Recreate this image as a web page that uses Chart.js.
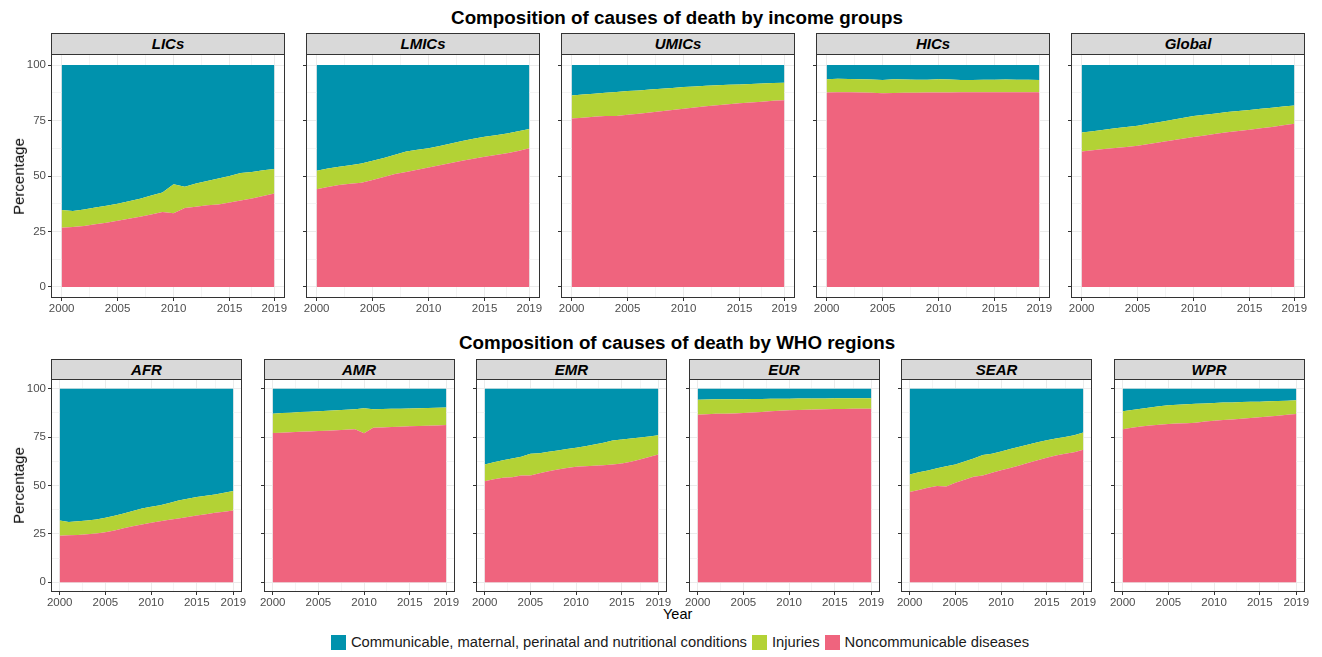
<!DOCTYPE html>
<html>
<head>
<meta charset="utf-8">
<script src="https://cdn.jsdelivr.net/npm/chart.js@4.4.1/dist/chart.umd.min.js"></script>
<style>
  html, body { margin: 0; padding: 0; background: #fff; }
  body { width: 1322px; height: 657px; position: relative; overflow: hidden;
         font-family: "Liberation Sans", Arial, Helvetica, sans-serif; color: #000; }
  .title { position: absolute; left: 0; width: 1354px; text-align: center;
           font-weight: bold; font-size: 18.8px; }
  .strip { position: absolute; box-sizing: border-box; background: #d9d9d9;
           border: 1px solid #333; text-align: center; font-weight: bold;
           font-style: italic; font-size: 15px; color: #000; }
  canvas { position: absolute; }
  .ytitle { position: absolute; font-size: 15px; transform: rotate(-90deg);
            transform-origin: center center; white-space: nowrap; }
  .xtitle { position: absolute; font-size: 14.5px; }
  .legend { position: absolute; left: 0; width: 1365px; top: 634px; display: flex;
            justify-content: center; align-items: center; font-size: 14.75px; color: #1a1a1a; }
  .legend .box { width: 15px; height: 15px; margin-right: 5px; }
  .legend .item { display: flex; align-items: center; margin-right: 5px; }
</style>
</head>
<body>
<div class="title" style="top:7px">Composition of causes of death by income groups</div>
<div class="title" style="top:332px">Composition of causes of death by WHO regions</div>
<div class="xtitle" style="left:663px; top:606px">Year</div>
<div class="legend">
  <div class="item"><div class="box" style="background:#0092ad"></div>Communicable, maternal, perinatal and nutritional conditions</div>
  <div class="item"><div class="box" style="background:#b3d235"></div>Injuries</div>
  <div class="item"><div class="box" style="background:#ef647e"></div>Noncommunicable diseases</div>
</div>
<script>
// years and axis breaks
const years = [2000, 2001, 2002, 2003, 2004, 2005, 2006, 2007, 2008, 2009,
               2010, 2011, 2012, 2013, 2014, 2015, 2016, 2017, 2018, 2019];
const xMajor = [2000, 2005, 2010, 2015, 2019];
const xMinor = [2002.5, 2007.5, 2012.5, 2017];
const yMajor = [0, 25, 50, 75, 100];
const yMinor = [12.5, 37.5, 62.5, 87.5];

// share of deaths (%)
const licsNcd  = [26.7, 27.0, 27.5, 28.2, 28.9, 29.8, 30.7, 31.6, 32.6, 33.8, 33.2, 35.6, 36.1, 36.8, 37.2, 38.0, 38.9, 39.9, 41.0, 42.1];
const licsInj  = [8.0, 7.2, 7.4, 7.6, 7.7, 7.7, 7.9, 8.2, 8.6, 8.8, 13.1, 9.5, 10.5, 10.9, 11.7, 12.0, 12.4, 11.9, 11.6, 11.1];
const licsCmnn = [65.3, 65.8, 65.1, 64.2, 63.4, 62.5, 61.4, 60.2, 58.8, 57.4, 53.7, 54.9, 53.4, 52.3, 51.1, 50.0, 48.7, 48.2, 47.4, 46.8];

const lmicsNcd  = [44.0, 45.0, 45.9, 46.5, 47.0, 48.2, 49.6, 50.9, 51.8, 52.8, 53.8, 54.8, 55.9, 56.9, 57.8, 58.7, 59.5, 60.2, 61.3, 62.5];
const lmicsInj  = [8.4, 8.4, 8.3, 8.4, 8.6, 8.7, 8.5, 8.7, 9.3, 9.0, 8.7, 8.7, 8.8, 8.9, 9.0, 9.0, 8.9, 9.0, 8.9, 8.7];
const lmicsCmnn = [47.6, 46.6, 45.8, 45.1, 44.4, 43.1, 41.9, 40.4, 38.9, 38.2, 37.5, 36.5, 35.3, 34.2, 33.2, 32.3, 31.6, 30.8, 29.8, 28.8];

const umicsNcd  = [75.9, 76.3, 76.7, 77.0, 77.1, 77.6, 78.1, 78.6, 79.2, 79.7, 80.3, 80.9, 81.5, 81.9, 82.4, 82.8, 83.1, 83.5, 83.9, 84.2];
const umicsInj  = [10.4, 10.4, 10.4, 10.5, 10.8, 10.7, 10.5, 10.4, 10.1, 10.0, 9.8, 9.5, 9.2, 9.0, 8.7, 8.5, 8.4, 8.2, 8.0, 7.8];
const umicsCmnn = [13.7, 13.3, 12.9, 12.5, 12.1, 11.7, 11.4, 11.0, 10.7, 10.3, 9.9, 9.6, 9.3, 9.1, 8.9, 8.7, 8.5, 8.3, 8.1, 8.0];

const hicsNcd  = [87.6, 87.7, 87.7, 87.6, 87.5, 87.3, 87.4, 87.5, 87.5, 87.6, 87.6, 87.6, 87.7, 87.7, 87.7, 87.7, 87.7, 87.8, 87.8, 87.8];
const hicsInj  = [6.0, 6.1, 6.0, 6.0, 6.0, 6.0, 6.2, 6.0, 5.9, 5.8, 6.0, 5.9, 5.6, 5.6, 5.7, 5.7, 5.8, 5.6, 5.6, 5.5];
const hicsCmnn = [6.4, 6.2, 6.3, 6.4, 6.5, 6.7, 6.4, 6.5, 6.6, 6.6, 6.4, 6.5, 6.7, 6.7, 6.6, 6.6, 6.5, 6.6, 6.6, 6.7];

const globalNcd  = [61.0, 61.6, 62.2, 62.6, 63.1, 63.6, 64.4, 65.2, 66.0, 66.8, 67.6, 68.3, 69.0, 69.7, 70.3, 70.9, 71.5, 72.1, 72.9, 73.6];
const globalInj  = [8.6, 8.6, 8.7, 8.9, 9.0, 9.1, 9.1, 9.1, 9.3, 9.4, 9.4, 9.3, 9.2, 9.1, 9.0, 8.9, 8.8, 8.7, 8.4, 8.2];
const globalCmnn = [30.4, 29.8, 29.1, 28.5, 27.9, 27.3, 26.5, 25.7, 24.7, 23.8, 23.0, 22.4, 21.8, 21.2, 20.7, 20.2, 19.7, 19.2, 18.7, 18.2];

const afrNcd  = [24.1, 24.3, 24.5, 24.8, 25.2, 25.9, 26.8, 27.9, 29.0, 29.9, 30.7, 31.5, 32.3, 32.9, 33.7, 34.5, 35.2, 35.9, 36.5, 37.1];
const afrInj  = [7.8, 6.9, 7.0, 7.1, 7.3, 7.4, 7.6, 7.6, 7.8, 8.2, 8.3, 8.3, 8.7, 9.3, 9.4, 9.5, 9.5, 9.4, 9.8, 10.0];
const afrCmnn = [68.1, 68.8, 68.5, 68.1, 67.5, 66.7, 65.6, 64.5, 63.2, 61.9, 61.0, 60.2, 59.0, 57.8, 56.9, 56.0, 55.3, 54.7, 53.7, 52.9];

const amrNcd  = [77.1, 77.3, 77.5, 77.7, 77.9, 78.1, 78.3, 78.5, 78.8, 79.0, 77.0, 79.8, 80.0, 80.2, 80.4, 80.6, 80.7, 80.9, 81.0, 81.2];
const amrInj  = [10.0, 10.1, 10.1, 10.2, 10.2, 10.3, 10.3, 10.4, 10.3, 10.4, 12.9, 9.6, 9.5, 9.4, 9.3, 9.2, 9.2, 9.1, 9.2, 9.1];
const amrCmnn = [12.9, 12.6, 12.4, 12.1, 11.9, 11.6, 11.4, 11.1, 10.9, 10.6, 10.1, 10.6, 10.5, 10.4, 10.3, 10.2, 10.1, 10.0, 9.8, 9.7];

const emrNcd  = [52.2, 53.2, 54.0, 54.3, 55.2, 55.2, 56.3, 57.4, 58.3, 59.1, 59.7, 59.9, 60.2, 60.5, 60.9, 61.4, 62.3, 63.4, 64.7, 66.0];
const emrInj  = [8.7, 8.8, 9.0, 9.7, 9.6, 11.2, 10.3, 10.0, 9.8, 9.7, 9.8, 10.4, 11.0, 11.6, 12.4, 12.4, 12.0, 11.4, 10.6, 9.9];
const emrCmnn = [39.1, 38.0, 37.0, 36.0, 35.2, 33.6, 33.4, 32.6, 31.9, 31.2, 30.5, 29.7, 28.8, 27.9, 26.7, 26.2, 25.7, 25.2, 24.7, 24.1];

const eurNcd  = [86.6, 86.8, 87.0, 87.1, 87.2, 87.4, 87.7, 88.0, 88.3, 88.6, 88.8, 89.0, 89.1, 89.2, 89.4, 89.5, 89.5, 89.6, 89.6, 89.7];
const eurInj  = [7.7, 7.6, 7.5, 7.4, 7.4, 7.2, 7.0, 6.7, 6.5, 6.2, 6.0, 5.9, 5.8, 5.7, 5.5, 5.5, 5.5, 5.4, 5.4, 5.3];
const eurCmnn = [5.7, 5.6, 5.5, 5.5, 5.4, 5.4, 5.3, 5.3, 5.2, 5.2, 5.2, 5.1, 5.1, 5.1, 5.1, 5.0, 5.0, 5.0, 5.0, 5.0];

const searNcd  = [46.7, 47.7, 48.8, 49.8, 49.5, 51.4, 53.0, 54.5, 55.2, 56.6, 57.9, 59.1, 60.3, 61.7, 63.1, 64.3, 65.5, 66.4, 67.2, 68.4];
const searInj  = [9.0, 9.1, 9.0, 9.1, 10.5, 9.5, 9.4, 9.5, 10.5, 9.8, 9.7, 9.7, 9.7, 9.5, 9.3, 9.1, 8.8, 8.7, 8.7, 9.0];
const searCmnn = [44.3, 43.2, 42.2, 41.1, 40.0, 39.1, 37.6, 36.0, 34.3, 33.6, 32.4, 31.2, 30.0, 28.8, 27.6, 26.6, 25.7, 24.9, 24.1, 22.6];

const wprNcd  = [79.0, 79.8, 80.5, 81.0, 81.4, 81.7, 82.0, 82.2, 82.4, 83.1, 83.4, 83.8, 84.1, 84.5, 84.8, 85.2, 85.6, 86.0, 86.5, 86.9];
const wprInj  = [9.3, 9.2, 9.2, 9.3, 9.5, 9.7, 9.7, 9.8, 9.8, 9.3, 9.2, 9.0, 8.8, 8.6, 8.4, 8.1, 7.9, 7.7, 7.3, 7.1];
const wprCmnn = [11.7, 11.0, 10.3, 9.7, 9.1, 8.6, 8.3, 8.0, 7.8, 7.6, 7.4, 7.2, 7.1, 6.9, 6.8, 6.7, 6.5, 6.3, 6.2, 6.0];

const colors = { cmnn: "#0092ad", inj: "#b3d235", ncd: "#ef647e" };

// layout of the two rows of panels
const rows = [
  { stripTop: 33, plotTop: 54, plotBottom: 298, lefts: [51, 306, 561, 816, 1071], width: 234 },
  { stripTop: 359, plotTop: 379, plotBottom: 592, lefts: [51, 263.5, 476, 688.5, 901, 1113.5], width: 191 }
];

const panels = [
  { name: "LICs",   row: 0, col: 0, ncd: licsNcd,   inj: licsInj,   cmnn: licsCmnn },
  { name: "LMICs",  row: 0, col: 1, ncd: lmicsNcd,  inj: lmicsInj,  cmnn: lmicsCmnn },
  { name: "UMICs",  row: 0, col: 2, ncd: umicsNcd,  inj: umicsInj,  cmnn: umicsCmnn },
  { name: "HICs",   row: 0, col: 3, ncd: hicsNcd,   inj: hicsInj,   cmnn: hicsCmnn },
  { name: "Global", row: 0, col: 4, ncd: globalNcd, inj: globalInj, cmnn: globalCmnn },
  { name: "AFR",    row: 1, col: 0, ncd: afrNcd,    inj: afrInj,    cmnn: afrCmnn },
  { name: "AMR",    row: 1, col: 1, ncd: amrNcd,    inj: amrInj,    cmnn: amrCmnn },
  { name: "EMR",    row: 1, col: 2, ncd: emrNcd,    inj: emrInj,    cmnn: emrCmnn },
  { name: "EUR",    row: 1, col: 3, ncd: eurNcd,    inj: eurInj,    cmnn: eurCmnn },
  { name: "SEAR",   row: 1, col: 4, ncd: searNcd,   inj: searInj,   cmnn: searCmnn },
  { name: "WPR",    row: 1, col: 5, ncd: wprNcd,    inj: wprInj,    cmnn: wprCmnn }
];

const LEFT_AXIS = 45, RIGHT_PAD = 16, X_AXIS = 20;
const FONT = "'Liberation Sans', Arial, Helvetica, sans-serif";

// ggplot-style panel border drawn around the whole plot area
const panelBorder = {
  id: "panelBorder",
  afterDraw(chart) {
    const { ctx, chartArea: a } = chart;
    ctx.save();
    ctx.strokeStyle = "#333333";
    ctx.lineWidth = 1;
    ctx.strokeRect(Math.round(a.left) + 0.5, Math.round(a.top) + 0.5,
                   Math.round(a.right - a.left) - 1, Math.round(a.bottom - a.top) - 1);
    ctx.restore();
  }
};

// keep chart.js from adding label padding so every plot area has the same box
const noPad = s => { s.paddingTop = 0; s.paddingBottom = 0; s.paddingLeft = 0; s.paddingRight = 0; };

const series = (arr) => years.map((yr, i) => ({ x: yr, y: arr[i] }));

panels.forEach(p => {
  const r = rows[p.row];
  const left = r.lefts[p.col];
  const plotH = r.plotBottom - r.plotTop;

  const strip = document.createElement("div");
  strip.className = "strip";
  strip.textContent = p.name;
  Object.assign(strip.style, {
    left: left + "px", top: r.stripTop + "px", width: r.width + "px",
    height: (r.plotTop - r.stripTop + 1) + "px",
    lineHeight: (r.plotTop - r.stripTop - 1) + "px"
  });
  document.body.appendChild(strip);

  const canvas = document.createElement("canvas");
  const cw = r.width + LEFT_AXIS + RIGHT_PAD;
  const ch = plotH + X_AXIS;
  canvas.width = cw; canvas.height = ch;
  Object.assign(canvas.style, {
    left: (left - LEFT_AXIS) + "px", top: r.plotTop + "px",
    width: cw + "px", height: ch + "px"
  });
  document.body.appendChild(canvas);

  const showY = p.col === 0;
  if (showY) {
    const t = document.createElement("div");
    t.className = "ytitle";
    t.textContent = "Percentage";
    document.body.appendChild(t);
    const w = t.offsetWidth, h = t.offsetHeight;
    t.style.left = (18 - w / 2) + "px";
    t.style.top = ((r.plotTop + r.plotBottom) / 2 - h / 2) + "px";
  }

  new Chart(canvas, {
    type: "line",
    data: {
      datasets: [
        { label: "Noncommunicable diseases", data: series(p.ncd), backgroundColor: colors.ncd, fill: "origin" },
        { label: "Injuries", data: series(p.inj), backgroundColor: colors.inj, fill: "-1" },
        { label: "Communicable, maternal, perinatal and nutritional conditions", data: series(p.cmnn), backgroundColor: colors.cmnn, fill: "-1" }
      ]
    },
    options: {
      responsive: false,
      animation: false,
      layout: { padding: { top: 0, right: RIGHT_PAD, left: 0, bottom: 0 } },
      elements: {
        point: { radius: 0, hoverRadius: 0 },
        line: { borderWidth: 0, tension: 0 }
      },
      plugins: { legend: { display: false }, tooltip: { enabled: false } },
      scales: {
        x: {
          type: "linear",
          min: 1999.05, max: 2019.95,
          afterBuildTicks: s => { s.ticks = xMajor.concat(xMinor).sort((a, b) => a - b).map(v => ({ value: v })); },
          afterFit: s => { s.height = X_AXIS; noPad(s); },
          border: { display: false },
          grid: {
            color: c => xMajor.includes(c.tick.value) ? "#ebebeb" : "#f4f4f4",
            tickColor: c => xMajor.includes(c.tick.value) ? "#333333" : "rgba(0,0,0,0)",
            tickLength: 3
          },
          ticks: {
            autoSkip: false, maxRotation: 0, padding: 1,
            color: "#4d4d4d", font: { size: 11.5, family: FONT },
            callback: v => xMajor.includes(v) ? String(v) : ""
          }
        },
        y: {
          stacked: true,
          min: -5, max: 105,
          afterBuildTicks: s => { s.ticks = yMajor.concat(yMinor).sort((a, b) => a - b).map(v => ({ value: v })); },
          afterFit: s => { s.width = LEFT_AXIS; noPad(s); },
          border: { display: false },
          grid: {
            color: c => yMajor.includes(c.tick.value) ? "#ebebeb" : "#f4f4f4",
            tickColor: c => yMajor.includes(c.tick.value) ? "#333333" : "rgba(0,0,0,0)",
            tickLength: 3
          },
          ticks: {
            display: showY, autoSkip: false, padding: 2,
            color: "#4d4d4d", font: { size: 11.5, family: FONT },
            callback: v => yMajor.includes(v) ? String(v) : ""
          }
        }
      }
    },
    plugins: [panelBorder]
  });
});
</script>
</body>
</html>
